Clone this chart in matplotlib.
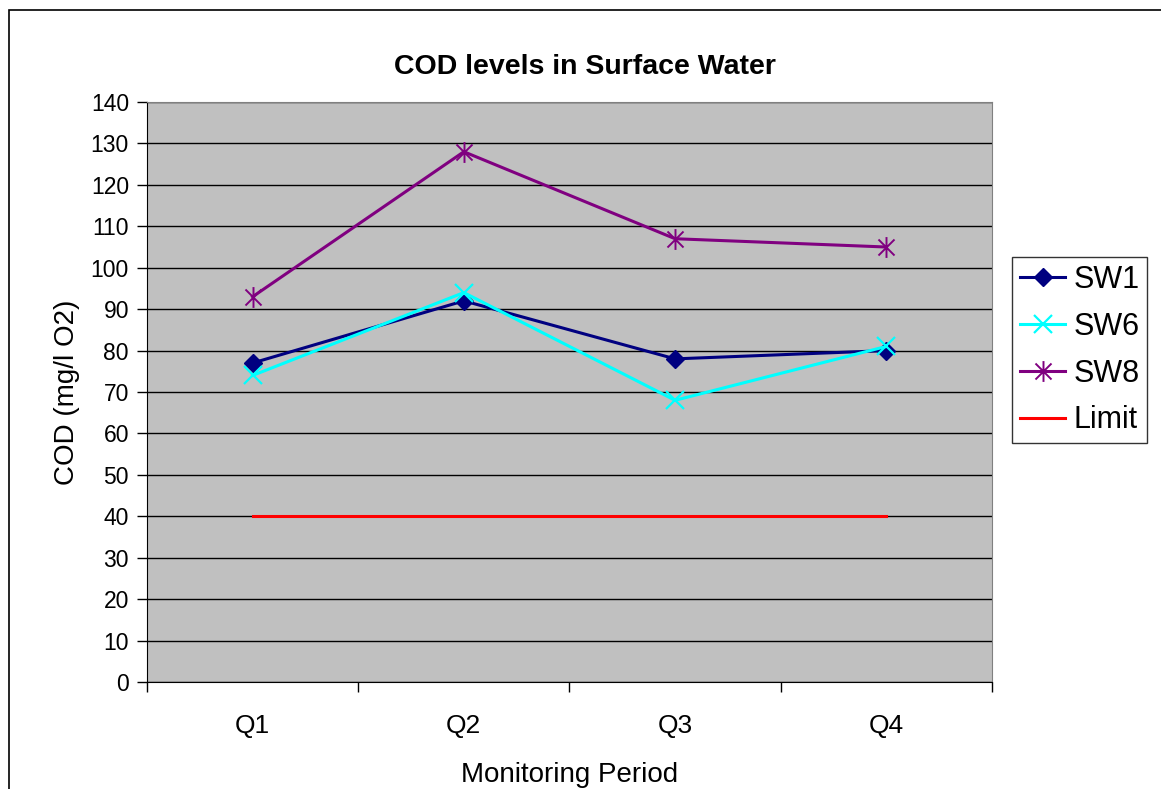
import matplotlib
matplotlib.use("Agg")
import matplotlib.pyplot as plt
from matplotlib.path import Path
from matplotlib.patches import Rectangle

plt.rcParams['font.family'] = ['Liberation Sans', 'DejaVu Sans']

periods = ["Q1", "Q2", "Q3", "Q4"]
sw1 = [77, 92, 78, 80]
sw6 = [74, 94, 68, 81]
sw8 = [93, 128, 107, 105]
limit = [40, 40, 40, 40]

# star marker: an X with a vertical stroke through it
star = Path(
    [(-1, -1), (1, 1), (-1, 1), (1, -1), (0, -1.3), (0, 1.3)],
    [Path.MOVETO, Path.LINETO, Path.MOVETO, Path.LINETO, Path.MOVETO, Path.LINETO],
)

fig = plt.figure(figsize=(11.61, 7.89), dpi=100)
ax = fig.add_axes([0.1266, 0.1356, 0.7278, 0.7351])
ax.set_facecolor("#C0C0C0")

x = list(range(len(periods)))
ax.plot(x, sw1, color="#000080", lw=2.2, marker="D", ms=9.5, mfc="#000080", mec="#000080", label="SW1", zorder=3)
ax.plot(x, sw6, color="#00FFFF", lw=2.2, marker="x", ms=13, mew=1.6, label="SW6", zorder=3)
ax.plot(x, sw8, color="#800080", lw=2.2, marker=star, ms=15, mew=1.4, label="SW8", zorder=3)
ax.plot(x, limit, color="#FF0000", lw=2.2, label="Limit", zorder=3)

ax.set_xlim(-0.5, 3.5)
ax.set_ylim(0, 140)
ax.set_yticks(range(0, 141, 10))
ax.yaxis.grid(True, color="black", lw=1)
ax.set_axisbelow(True)

ax.set_xticks(x)
ax.set_xticklabels(periods)
ax.set_xticks([-0.5, 0.5, 1.5, 2.5, 3.5], minor=True)
ax.tick_params(axis="x", which="major", length=0, pad=23, labelsize=19)
ax.tick_params(axis="x", which="minor", length=7, width=1)
ax.tick_params(axis="y", length=7, width=1, labelsize=16.5, pad=6)

for side in ("top", "right"):
    ax.spines[side].set_color("#808080")
for side in ("left", "bottom"):
    ax.spines[side].set_color("black")

# title is centred on the whole chart area rather than the plot area
ax.set_title("COD levels in Surface Water", fontsize=20.5, fontweight="bold", pad=20)
ax.title.set_x(0.518)
ax.set_xlabel("Monitoring Period", fontsize=20, labelpad=17)
ax.set_ylabel("COD (mg/l O2)", fontsize=20, labelpad=7.5)

leg = ax.legend(loc="center left", bbox_to_anchor=(1.0237, 0.572), fontsize=22,
                frameon=True, fancybox=False, edgecolor="black", handlelength=1.5,
                handletextpad=0.26, borderpad=0.25, labelspacing=0.55, borderaxespad=0)
leg.get_frame().set_linewidth(1)

fig.patches.append(Rectangle((9 / 1161, -0.01), 1.2, 1 - 10 / 789 + 0.01,
                             transform=fig.transFigure, fill=False,
                             edgecolor="black", lw=1.2))

fig.savefig("out.png", dpi=100)
